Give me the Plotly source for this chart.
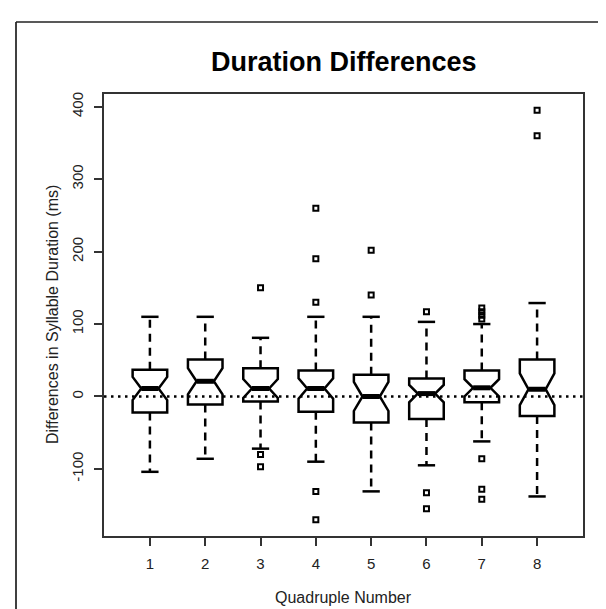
import plotly.graph_objects as go

# ---- data ----
quadruples = [1, 2, 3, 4, 5, 6, 7, 8]
q1_vals = [-22, -11, -7, -21, -36, -31, -8, -27]
median_vals = [11, 21, 11, 11, 0, 4, 12, 10]
q3_vals = [37, 51, 39, 36, 30, 25, 36, 51]
lower_whisker = [-104, -86, -72, -90, -131, -95, -62, -138]
upper_whisker = [110, 110, 81, 110, 110, 103, 100, 129]
notch_halfspan = [16, 18, 13, 14, 20, 12, 12, 22]
outliers = [
    [],
    [],
    [150, -80, -97],
    [260, 190, 130, -131, -170],
    [202, 140],
    [117, -133, -155],
    [122, 117, 112, 107, -86, -128, -142],
    [395, 360],
]
y_ticks = [-100, 0, 100, 200, 300, 400]

# ---- styling constants ----
BOX_W = 0.625
CAP_HALF = BOX_W / 4
NOTCH_HALF = BOX_W / 4
FONT = "Liberation Sans, Arial, sans-serif"
W, H = 606, 609
L, R, T, B = 96, 31, 86, 81

fig = go.Figure()

# dashed whiskers
wx, wy = [], []
for x, lo, q1, q3, hi in zip(quadruples, lower_whisker, q1_vals, q3_vals, upper_whisker):
    wx += [x, x, None, x, x, None]
    wy += [q3, hi, None, q1, lo, None]
fig.add_trace(go.Scatter(x=wx, y=wy, mode="lines", line=dict(color="black", width=2.5, dash="8px,6px"),
                         hoverinfo="skip", showlegend=False))

# whisker caps (staples)
cx, cy = [], []
for x, lo, hi in zip(quadruples, lower_whisker, upper_whisker):
    cx += [x - CAP_HALF, x + CAP_HALF, None, x - CAP_HALF, x + CAP_HALF, None]
    cy += [hi, hi, None, lo, lo, None]
fig.add_trace(go.Scatter(x=cx, y=cy, mode="lines", line=dict(color="black", width=2.5),
                         hoverinfo="skip", showlegend=False))

# notched boxes
fig.add_trace(go.Box(
    x=quadruples, q1=q1_vals, median=median_vals, q3=q3_vals,
    lowerfence=q1_vals, upperfence=q3_vals, notchspan=notch_halfspan,
    notched=True, notchwidth=0.25, width=BOX_W, whiskerwidth=0,
    fillcolor="white", line=dict(color="black", width=2.5),
    boxpoints=False, showlegend=False, hoverinfo="skip",
))

# thick medians
mx, my = [], []
for x, m in zip(quadruples, median_vals):
    mx += [x - NOTCH_HALF, x + NOTCH_HALF, None]
    my += [m, m, None]
fig.add_trace(go.Scatter(x=mx, y=my, mode="lines", line=dict(color="black", width=5),
                         hoverinfo="skip", showlegend=False))

# outliers
ox, oy = [], []
for x, vals in zip(quadruples, outliers):
    for v in vals:
        ox.append(x)
        oy.append(v)
fig.add_trace(go.Scatter(x=ox, y=oy, mode="markers",
                         marker=dict(symbol="square-open", size=5, color="black", line=dict(width=2, color="black")),
                         hoverinfo="skip", showlegend=False))

pw, ph = W - L - R, H - T - B
def px_x(p):
    return (p - L) / pw
def px_y(p):
    return (H - B - p) / ph

shapes = [
    # dotted zero reference line
    dict(type="line", xref="paper", yref="y", x0=0, x1=1, y0=0, y1=0,
         line=dict(color="black", width=2.5, dash="2.5px,4.5px"), layer="above"),
    # outer frame
    dict(type="line", xref="paper", yref="paper", x0=px_x(8), x1=px_x(8), y0=px_y(609), y1=px_y(14),
         line=dict(color="black", width=1.5)),
    dict(type="line", xref="paper", yref="paper", x0=px_x(8), x1=px_x(600), y0=px_y(14), y1=px_y(14),
         line=dict(color="#222", width=1.5)),
    dict(type="line", xref="paper", yref="paper", x0=px_x(600), x1=px_x(600), y0=px_y(609), y1=px_y(14),
         line=dict(color="#222", width=1.5)),
]

annotations = [
    dict(text="<b>Duration Differences</b>", xref="paper", yref="paper", x=0.5, y=px_y(54),
         xanchor="center", yanchor="middle", showarrow=False,
         font=dict(family=FONT, size=27, color="black")),
    dict(text="Quadruple Number", xref="paper", yref="paper", x=0.5, y=px_y(589),
         xanchor="center", yanchor="middle", showarrow=False,
         font=dict(family=FONT, size=16, color="#222")),
    dict(text="Differences in Syllable Duration (ms)", xref="paper", yref="paper", x=px_x(44), y=0.5,
         xanchor="center", yanchor="middle", showarrow=False, textangle=-90,
         font=dict(family=FONT, size=16, color="#222")),
]

fig.update_layout(
    width=W, height=H,
    margin=dict(l=L, r=R, t=T, b=B, pad=0),
    paper_bgcolor="white", plot_bgcolor="white",
    shapes=shapes, annotations=annotations,
    showlegend=False,
    xaxis=dict(range=[0.17, 8.83], tickmode="array", tickvals=quadruples,
               ticktext=[str(q) for q in quadruples],
               showgrid=False, zeroline=False, showline=True, mirror=True,
               linecolor="#333", linewidth=1.5, ticks="outside", ticklen=8, tickwidth=1.5,
               tickcolor="#333", ticklabelstandoff=5,
               tickfont=dict(family=FONT, size=15, color="#222")),
    yaxis=dict(range=[-192.6, 417.6], tickmode="array", tickvals=y_ticks,
               ticktext=[str(v) for v in y_ticks], tickangle=-90,
               showgrid=False, zeroline=False, showline=True, mirror=True,
               linecolor="#333", linewidth=1.5, ticks="outside", ticklen=8, tickwidth=1.5,
               tickcolor="#333", ticklabelstandoff=5,
               tickfont=dict(family=FONT, size=15, color="#222")),
)

fig.write_html("out.html")
